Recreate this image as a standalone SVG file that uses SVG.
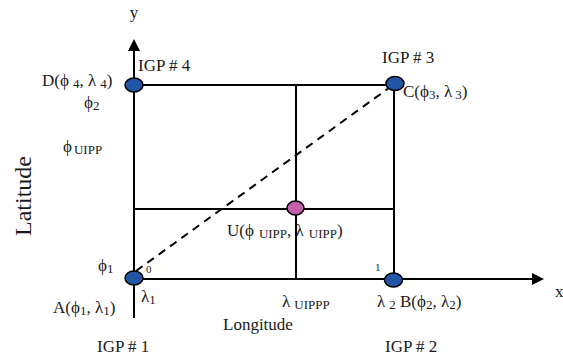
<svg xmlns="http://www.w3.org/2000/svg" width="563" height="356" viewBox="0 0 563 356">
<style>
text{font-family:"Liberation Serif","Times New Roman",serif;font-size:17px;fill:#1a1a1a}
.s{font-size:13px}
.sm{font-size:11px}
.ln{stroke:#000;stroke-width:2;fill:none}
.ax{stroke:#000;stroke-width:2;fill:none}
.dash{stroke:#000;stroke-width:2;fill:none;stroke-dasharray:8 6}
.igp{fill:#1f56a6;stroke:#000;stroke-width:1.5}
.uipp{fill:#c460ab;stroke:#000;stroke-width:1.5}
</style>
<defs>
<marker id="arr" markerUnits="userSpaceOnUse" markerWidth="13" markerHeight="13" refX="0" refY="6" orient="auto">
<path d="M0,0 L12,6 L0,12 Z" fill="#000"/>
</marker>
</defs>
<rect width="563" height="356" fill="#fff"/>
<g id="connectors">
<line class="ax" x1="134" y1="318" x2="134" y2="51" marker-end="url(#arr)"/>
<line class="ax" x1="134" y1="279" x2="532" y2="279" marker-end="url(#arr)"/>
<line class="ln" x1="134" y1="85" x2="394" y2="85"/>
<line class="ln" x1="394" y1="85" x2="394" y2="279"/>
<line class="ln" x1="296" y1="85" x2="296" y2="279"/>
<line class="ln" x1="134" y1="209" x2="394" y2="209"/>
<line class="dash" x1="136" y1="271" x2="393" y2="85"/>
</g>
<g id="axis-labels" font-family="Liberation Serif, serif">
<text x="134" y="18" text-anchor="middle">y</text>
<text x="555" y="297">x</text>
<text transform="translate(31,196) rotate(-90)" text-anchor="middle" style="font-size:24px">Latitude</text>
<text x="223" y="330">Longitude</text>
<text x="84" y="108">ϕ<tspan class="s" dy="2">2</tspan></text>
<text x="63" y="152">ϕ<tspan class="s" dx="2" dy="2">UIPP</tspan></text>
<text x="98" y="271">ϕ<tspan class="s" dy="2">1</tspan></text>
<text x="141" y="302">λ<tspan class="s" dy="2">1</tspan></text>
<text x="282" y="307">λ<tspan class="s" dx="4" dy="2">UIPPP</tspan></text>
<text class="sm" x="146" y="273">0</text>
<text class="sm" x="375" y="271">1</text>
</g>
<g id="node-D">
<ellipse class="igp" cx="134" cy="85" rx="9" ry="7"/>
<text x="138" y="71">IGP # 4</text>
<text x="42" y="86">D(ϕ<tspan class="s" dx="4" dy="2">4</tspan><tspan dy="-2">, λ</tspan><tspan class="s" dx="4" dy="2">4</tspan><tspan dy="-2">)</tspan></text>
</g>
<g id="node-C">
<ellipse class="igp" cx="395" cy="83.5" rx="9" ry="7"/>
<text x="382" y="63">IGP # 3</text>
<text x="403" y="97">C(ϕ<tspan class="s" dy="2">3</tspan><tspan dy="-2">, λ</tspan><tspan class="s" dx="3" dy="2">3</tspan><tspan dy="-2">)</tspan></text>
</g>
<g id="node-A">
<ellipse class="igp" cx="134" cy="278" rx="9" ry="7"/>
<text x="53" y="313">A(ϕ<tspan class="s" dy="2">1</tspan><tspan dy="-2">, λ</tspan><tspan class="s" dy="2">1</tspan><tspan dy="-2">)</tspan></text>
<text x="97" y="352">IGP # 1</text>
</g>
<g id="node-B">
<ellipse class="igp" cx="393.5" cy="280" rx="9" ry="7"/>
<text x="377" y="307">λ<tspan class="s" dx="4" dy="2">2</tspan><tspan dy="-2"> B(ϕ</tspan><tspan class="s" dy="2">2</tspan><tspan dy="-2">, λ</tspan><tspan class="s" dy="2">2</tspan><tspan dy="-2">)</tspan></text>
<text x="385" y="352">IGP # 2</text>
</g>
<g id="node-U">
<ellipse class="uipp" cx="295.5" cy="208" rx="8.5" ry="7"/>
<text x="227" y="236">U(ϕ<tspan class="s" dx="5" dy="2">UIPP</tspan><tspan dy="-2">, λ</tspan><tspan class="s" dx="5" dy="2">UIPP</tspan><tspan dy="-2">)</tspan></text>
</g>
</svg>
